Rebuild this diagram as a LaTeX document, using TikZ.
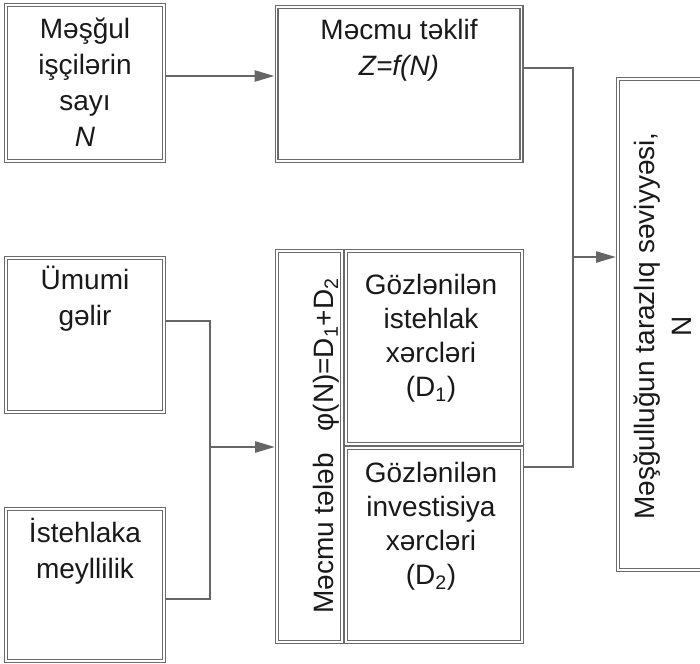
\documentclass[tikz,border=0pt]{standalone}
\usepackage{fontspec}
\setmainfont{Liberation Sans}
\usetikzlibrary{arrows.meta}
\begin{document}
\begin{tikzpicture}[x=1pt,y=-1pt,
  box/.style={rectangle, draw=black!58, line width=1.4pt, double=white, double distance=1.4pt, outer sep=2.1pt, inner sep=0pt},
  conn/.style={draw=black!60, line width=2.6pt},
  arr/.style={conn, -{Triangle[length=20pt,width=11pt]}},
  txt/.style={text=black!90, font=\fontsize{28}{36}\selectfont, align=center, inner sep=0pt},
  txtd/.style={txt, font=\fontsize{28}{34}\selectfont},
]
\useasboundingbox (0,0) rectangle (700,663);
% boxes
\node[box, minimum width=157.8, minimum height=155.8] (b1) at (85,83) {};
\node[box, minimum width=244.8, minimum height=153.8] (b2) at (399,84) {};
\node[box, minimum width=157.8, minimum height=153.8] (g) at (85,335) {};
\node[box, minimum width=157.8, minimum height=151.8] (m) at (85,585) {};
\node[box, minimum width=64.8, minimum height=390.8] (dl) at (309.5,446.5) {};
\node[box, minimum width=175.8, minimum height=192.8] (d1) at (434,347.5) {};
\node[box, minimum width=175.8, minimum height=193.8] (d2) at (434,545) {};
\node[box, minimum width=85.8, minimum height=490.8] (R) at (661,324.5) {};
% texts
\node[txt, anchor=north] (t1) at (85,18) {Məşğul\\işçilərin\\sayı\\\textit{N}};
\node[txt, anchor=north] (t2) at (399,19) {Məcmu təklif\\\textit{Z=f(N)}};
\node[txt, anchor=north] (tg) at (85,266) {Ümumi\\gəlir};
\node[txt, anchor=north] (tm) at (85,518) {İstehlaka\\meyllilik};
\node[txtd, anchor=north] (td1) at (431,274) {Gözlənilən\\istehlak\\xərcləri\\(D\textsubscript{1})};
\node[txtd, anchor=north] (td2) at (431,462) {Gözlənilən\\investisiya\\xərcləri\\(D\textsubscript{2})};
\node[txt, rotate=90, anchor=base] (tdl) at (333,446) {Məcmu tələb\hspace{22pt}φ(N)=D\textsubscript{1}+D\textsubscript{2}};
\node[txt, rotate=90, font=\fontsize{28}{37}\selectfont] (tR) at (663,326) {Məşğulluğun tarazlıq səviyyəsi,\\N};
% helper coordinates
\coordinate (y76) at (0,76);
\coordinate (y68) at (0,68);
\coordinate (y467) at (0,467);
\coordinate (y321) at (0,321);
\coordinate (y599) at (0,599);
\coordinate (j1) at (573,257);
\coordinate (j2) at (210,447);
% connectors
\draw[arr] (b1.east |- y76) -- (b2.west |- y76);
\draw[conn] (b2.east |- y68) -| (j1) |- (d2.east |- y467);
\draw[arr] (j1) -- (R.west |- j1);
\draw[conn] (g.east |- y321) -| (j2) |- (m.east |- y599);
\draw[arr] (j2) -- (dl.west |- j2);
\end{tikzpicture}
\end{document}
